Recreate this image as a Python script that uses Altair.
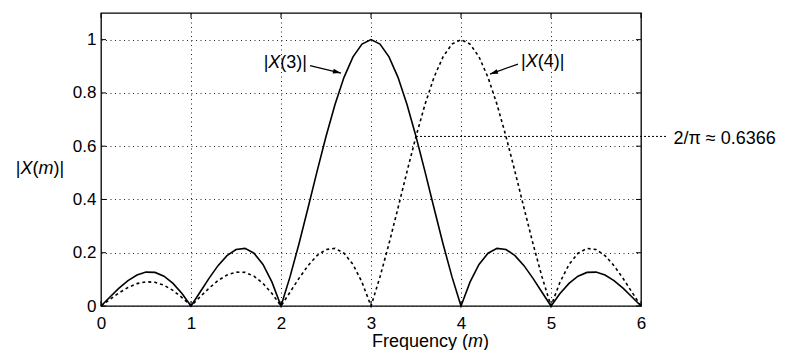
import altair as alt
import pandas as pd

# Sample positions (frequency m) and magnitudes
m_values = [0.0, 0.1, 0.2, 0.3, 0.4, 0.5, 0.6, 0.7, 0.8, 0.9,
            1.0, 1.1, 1.2, 1.3, 1.4, 1.5, 1.6, 1.7, 1.8, 1.9,
            2.0, 2.1, 2.2, 2.3, 2.4, 2.5, 2.6, 2.7, 2.8, 2.9,
            3.0, 3.1, 3.2, 3.3, 3.4, 3.5, 3.6, 3.7, 3.8, 3.9,
            4.0, 4.1, 4.2, 4.3, 4.4, 4.5, 4.6, 4.7, 4.8, 4.9,
            5.0, 5.1, 5.2, 5.3, 5.4, 5.5, 5.6, 5.7, 5.8, 5.9, 6.0]

x3_values = [0, 0.0339, 0.0668, 0.0954, 0.1164, 0.1273, 0.1261, 0.1120, 0.0850, 0.0468,
             0, 0.0518, 0.1039, 0.1515, 0.1892, 0.2122, 0.2162, 0.1981, 0.1559, 0.0894,
             0, 0.1093, 0.2339, 0.3679, 0.5046, 0.6366, 0.7568, 0.8584, 0.9355, 0.9836,
             1.0, 0.9836, 0.9355, 0.8584, 0.7568, 0.6366, 0.5046, 0.3679, 0.2339, 0.1093,
             0, 0.0894, 0.1559, 0.1981, 0.2162, 0.2122, 0.1892, 0.1515, 0.1039, 0.0518,
             0, 0.0468, 0.0850, 0.1120, 0.1261, 0.1273, 0.1164, 0.0954, 0.0668, 0.0339, 0]

x4_values = [0, 0.0252, 0.0492, 0.0696, 0.0841, 0.0909, 0.0890, 0.0780, 0.0585, 0.0317,
             0, 0.0339, 0.0668, 0.0954, 0.1164, 0.1273, 0.1261, 0.1120, 0.0850, 0.0468,
             0, 0.0518, 0.1039, 0.1515, 0.1892, 0.2122, 0.2162, 0.1981, 0.1559, 0.0894,
             0, 0.1093, 0.2339, 0.3679, 0.5046, 0.6366, 0.7568, 0.8584, 0.9355, 0.9836,
             1.0, 0.9836, 0.9355, 0.8584, 0.7568, 0.6366, 0.5046, 0.3679, 0.2339, 0.1093,
             0, 0.0894, 0.1559, 0.1981, 0.2162, 0.2122, 0.1892, 0.1515, 0.1039, 0.0518, 0]

x_ticks = [0, 1, 2, 3, 4, 5, 6]
y_ticks = [0, 0.2, 0.4, 0.6, 0.8, 1.0]

# 2/pi reference line (from crossing point out past the frame)
ref_x = [3.5, 6.3]
ref_y = [0.6366, 0.6366]
ref_label = "2/\u03c0 \u2248 0.6366"
ref_label_pos = [6.36, 0.609]

# Text segments: text, x, y, italic
seg_text = ["|", "X", "(3)|",
            "|", "X", "(4)|",
            "|", "X", "(", "m", ")|",
            "Frequency (", "m", ")"]
seg_x = [1.807, 1.859, 1.992,
         4.667, 4.719, 4.852,
         -0.947, -0.894, -0.761, -0.694, -0.528,
         3.011, 4.078, 4.244]
seg_y = [0.894, 0.894, 0.894,
         0.899, 0.899, 0.899,
         0.494, 0.494, 0.494, 0.494, 0.494,
         -0.154, -0.154, -0.154]
seg_italic = [False, True, False,
              False, True, False,
              False, True, False, True, False,
              False, True, False]

# Arrows: start (x, y) -> tip (x, y), head centre and angle
arrow_x = [2.322, 4.633]
arrow_y = [0.9028, 0.9084]
arrow_x2 = [2.667, 4.322]
arrow_y2 = [0.8746, 0.8709]
head_x = [2.623, 4.364]
head_y = [0.8784, 0.8757]
head_angle = [103.6, 250.3]

W, H = 540, 293
FONT = "Liberation Sans"
FS = 18
TICK_FS = 17

curves = pd.DataFrame({
    "m": m_values * 2,
    "v": x3_values + x4_values,
    "s": ["X3"] * len(m_values) + ["X4"] * len(m_values),
})
segs = pd.DataFrame({"t": seg_text, "x": seg_x, "y": seg_y, "it": seg_italic})
arrows = pd.DataFrame({"x": arrow_x, "y": arrow_y, "x2": arrow_x2, "y2": arrow_y2,
                       "hx": head_x, "hy": head_y, "a": head_angle})
refline = pd.DataFrame({"x": ref_x, "y": ref_y})
reftext = pd.DataFrame({"x": [ref_label_pos[0]], "y": [ref_label_pos[1]], "t": [ref_label]})
xt = pd.DataFrame({"v": x_ticks})
yt = pd.DataFrame({"v": y_ticks})

xscale = alt.Scale(domain=[0, 6], nice=False, zero=False)
yscale = alt.Scale(domain=[0, 1.1], nice=False, zero=False)

xaxis = alt.Axis(values=x_ticks, grid=True, ticks=False, tickSize=0, domain=False, format="d",
                 labelFontSize=TICK_FS, labelFont=FONT, labelColor="black", labelPadding=9,
                 title=None, gridColor="#222", gridDash=[1, 3.5], gridWidth=1, labelFlush=False)
yaxis = alt.Axis(values=y_ticks, grid=True, ticks=False, tickSize=0, domain=False, format="~g",
                 labelFontSize=TICK_FS, labelFont=FONT, labelColor="black", labelPadding=5,
                 title=None, gridColor="#222", gridDash=[1, 3.5], gridWidth=1, labelFlush=False)

base = alt.Chart(curves)
solid = base.transform_filter(alt.datum.s == "X3").mark_line(
    color="black", strokeWidth=1.6).encode(
    x=alt.X("m:Q", scale=xscale, axis=xaxis),
    y=alt.Y("v:Q", scale=yscale, axis=yaxis),
)
dashed = base.transform_filter(alt.datum.s == "X4").mark_line(
    color="black", strokeWidth=1.6, strokeDash=[3, 3]).encode(
    x=alt.X("m:Q", scale=xscale),
    y=alt.Y("v:Q", scale=yscale),
)

ref_rule = alt.Chart(refline).mark_line(color="black", strokeWidth=1, strokeDash=[2, 2]).encode(
    x=alt.X("x:Q", scale=xscale), y=alt.Y("y:Q", scale=yscale))
ref_txt = alt.Chart(reftext).mark_text(align="left", baseline="alphabetic", font=FONT,
                                       fontSize=FS, color="black").encode(
    x=alt.X("x:Q", scale=xscale), y=alt.Y("y:Q", scale=yscale), text="t:N")

txt_normal = alt.Chart(segs).transform_filter(alt.datum.it == False).mark_text(
    align="left", baseline="alphabetic", font=FONT, fontSize=FS, color="black").encode(
    x=alt.X("x:Q", scale=xscale), y=alt.Y("y:Q", scale=yscale), text="t:N")
txt_italic = alt.Chart(segs).transform_filter(alt.datum.it == True).mark_text(
    align="left", baseline="alphabetic", font=FONT, fontSize=FS, fontStyle="italic",
    color="black").encode(
    x=alt.X("x:Q", scale=xscale), y=alt.Y("y:Q", scale=yscale), text="t:N")

arrow_lines = alt.Chart(arrows).mark_rule(color="black", strokeWidth=1.3).encode(
    x=alt.X("x:Q", scale=xscale), y=alt.Y("y:Q", scale=yscale), x2="x2:Q", y2="y2:Q")
arrow_heads = alt.Chart(arrows).mark_point(
    shape="M0,-1L0.6,1L-0.6,1Z", filled=True, color="black", size=64, opacity=1).encode(
    x=alt.X("hx:Q", scale=xscale), y=alt.Y("hy:Q", scale=yscale), angle=alt.Angle("a:Q", scale=None))

tick_style = dict(color="black", strokeWidth=1)
xt_bottom = alt.Chart(xt).mark_rule(**tick_style).encode(
    x=alt.X("v:Q", scale=xscale), y=alt.value(H), y2=alt.value(H - 5))
xt_top = alt.Chart(xt).mark_rule(**tick_style).encode(
    x=alt.X("v:Q", scale=xscale), y=alt.value(0), y2=alt.value(5))
yt_left = alt.Chart(yt).mark_rule(**tick_style).encode(
    y=alt.Y("v:Q", scale=yscale), x=alt.value(0), x2=alt.value(5))
yt_right = alt.Chart(yt).mark_rule(**tick_style).encode(
    y=alt.Y("v:Q", scale=yscale), x=alt.value(W - 5), x2=alt.value(W))

chart = alt.layer(
    solid, dashed, ref_rule, ref_txt, txt_normal, txt_italic,
    arrow_lines, arrow_heads, xt_bottom, xt_top, yt_left, yt_right,
).properties(
    width=W, height=H,
    autosize=alt.AutoSizeParams(type="none"),
    padding={"left": 93, "top": 5, "right": 146, "bottom": 44},
    background="white",
).configure_view(
    stroke="black", strokeWidth=1.3,
)

chart.save("out.html", embed_options={"renderer": "svg", "actions": False})
